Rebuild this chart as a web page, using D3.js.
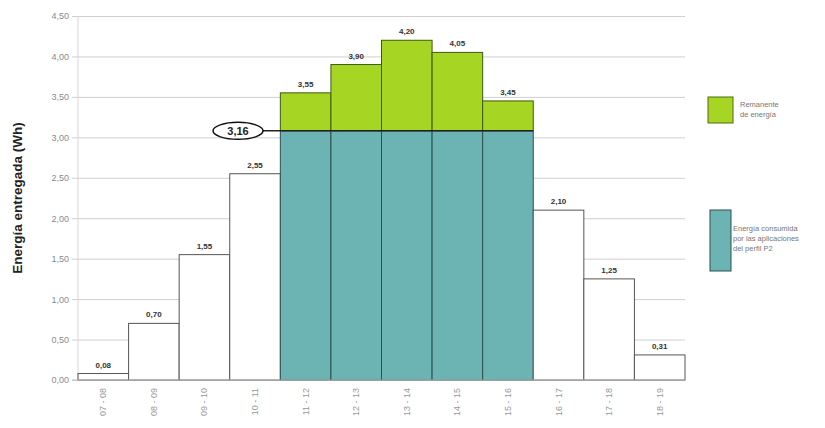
<!DOCTYPE html>
<html>
<head>
<meta charset="utf-8">
<script src="https://cdn.jsdelivr.net/npm/d3@7"></script>
<style>
  body { margin: 0; background: #fff; }
  svg { font-family: "Liberation Sans", Arial, sans-serif; }
</style>
</head>
<body>
<svg id="chart" width="825" height="428"></svg>
<script>
// franjas horarias y energia entregada (Wh)
var categories = ["07 - 08", "08 - 09", "09 - 10", "10 - 11", "11 - 12", "12 - 13",
                  "13 - 14", "14 - 15", "15 - 16", "16 - 17", "17 - 18", "18 - 19"];
var totals   = [0.08, 0.70, 1.55, 2.55, 3.55, 3.90, 4.20, 4.05, 3.45, 2.10, 1.25, 0.31];
var consumed = [0, 0, 0, 0, 3.08, 3.08, 3.08, 3.08, 3.08, 0, 0, 0];
var yTicks   = [0, 0.5, 1, 1.5, 2, 2.5, 3, 3.5, 4, 4.5];
var markLabel = "3,16";

var svg = d3.select("#chart");
var plotL = 78, plotR = 685, plotT = 16, plotB = 380;

var x = d3.scaleBand().domain(categories).range([plotL, plotR]).padding(0);
var y = d3.scaleLinear().domain([0, 4.5]).range([plotB, plotT]);
var fmt = function(v){ return d3.format(".2f")(v).replace(".", ","); };

// rejilla
var yAxis = d3.axisLeft(y).tickValues(yTicks).tickSize(-(plotR - plotL + 6)).tickFormat(fmt);
var gy = svg.append("g").attr("transform", "translate(" + (plotL - 6) + ",0)").call(yAxis);
gy.select(".domain").remove();
gy.selectAll(".tick line").attr("stroke", "#cfcfcf");
gy.selectAll(".tick text").attr("fill", "#8a8a8a").attr("font-size", 9).attr("x", -3);

svg.append("line")
    .attr("x1", plotL).attr("x2", plotL).attr("y1", plotT).attr("y2", plotB)
    .attr("stroke", "#d6d6d6");

// barras
var data = categories.map(function(c, i){
    return {cat: c, total: totals[i], cons: consumed[i]};
});

var g = svg.append("g");
data.forEach(function(d){
    if (d.cons > 0) {
        g.append("rect")
            .attr("x", x(d.cat)).attr("y", y(d.total))
            .attr("width", x.bandwidth()).attr("height", y(d.cons) - y(d.total))
            .attr("fill", "#a6d523").attr("stroke", "#3d5a10").attr("stroke-width", 1);
        g.append("rect")
            .attr("x", x(d.cat)).attr("y", y(d.cons))
            .attr("width", x.bandwidth()).attr("height", plotB - y(d.cons))
            .attr("fill", "#6cb4b4").attr("stroke", "#2c4f4f").attr("stroke-width", 1);
    } else {
        g.append("rect")
            .attr("x", x(d.cat)).attr("y", y(d.total))
            .attr("width", x.bandwidth()).attr("height", plotB - y(d.total))
            .attr("fill", "#fff").attr("stroke", "#555").attr("stroke-width", 1);
    }
    g.append("text")
        .attr("x", x(d.cat) + x.bandwidth() / 2)
        .attr("y", y(d.total) - 6)
        .attr("text-anchor", "middle")
        .attr("font-size", 8).attr("font-weight", "bold").attr("fill", "#333")
        .text(fmt(d.total));
});

// eje x
svg.append("line")
    .attr("x1", plotL - 6).attr("x2", plotR).attr("y1", plotB).attr("y2", plotB)
    .attr("stroke", "#bbb");
categories.forEach(function(c){
    var cx = x(c) + x.bandwidth() / 2;
    svg.append("text")
        .attr("transform", "translate(" + (cx + 3) + "," + (plotB + 8) + ") rotate(-90)")
        .attr("text-anchor", "end")
        .attr("font-size", 9).attr("fill", "#999")
        .text(c);
});

// linea de consumo y marca
var lvl = d3.max(consumed);
var lastIdx = consumed.length - 1 - consumed.slice().reverse().findIndex(function(v){ return v > 0; });
var lastC = categories[lastIdx];
var ex = 238, ey = y(lvl);
svg.append("line")
    .attr("x1", ex + 25).attr("x2", x(lastC) + x.bandwidth())
    .attr("y1", ey).attr("y2", ey)
    .attr("stroke", "#222").attr("stroke-width", 1.5);
svg.append("ellipse")
    .attr("cx", ex).attr("cy", ey).attr("rx", 25).attr("ry", 8.5)
    .attr("fill", "#fff").attr("stroke", "#111").attr("stroke-width", 1.5);
svg.append("text")
    .attr("x", ex).attr("y", ey + 4)
    .attr("text-anchor", "middle")
    .attr("font-size", 11).attr("font-weight", "bold").attr("fill", "#222")
    .text(markLabel);

// titulo eje y
svg.append("text")
    .attr("transform", "translate(22,198) rotate(-90)")
    .attr("text-anchor", "middle")
    .attr("font-size", 13.5).attr("font-weight", "bold").attr("fill", "#222")
    .text("Energía entregada (Wh)");

// leyenda
svg.append("rect").attr("x", 708).attr("y", 97).attr("width", 25).attr("height", 26)
    .attr("fill", "#a6d523").attr("stroke", "#4f6b18");
svg.append("text").attr("font-size", 7.5).attr("fill", "#777")
    .selectAll("tspan").data(["Remanente", "de energía"]).enter().append("tspan")
    .attr("x", 740).attr("y", function(d, i){ return 107 + i * 10; })
    .text(function(d){ return d; });

svg.append("rect").attr("x", 710).attr("y", 210).attr("width", 21).attr("height", 61)
    .attr("fill", "#6cb4b4").attr("stroke", "#2c4f4f");
svg.append("text").attr("font-size", 7.5).attr("fill", "#777")
    .selectAll("tspan").data(["Energía consumida", "por las aplicaciones", "del perfil P2"]).enter().append("tspan")
    .attr("x", 733).attr("y", function(d, i){ return 231 + i * 10; })
    .text(function(d){ return d; });
</script>
</body>
</html>
